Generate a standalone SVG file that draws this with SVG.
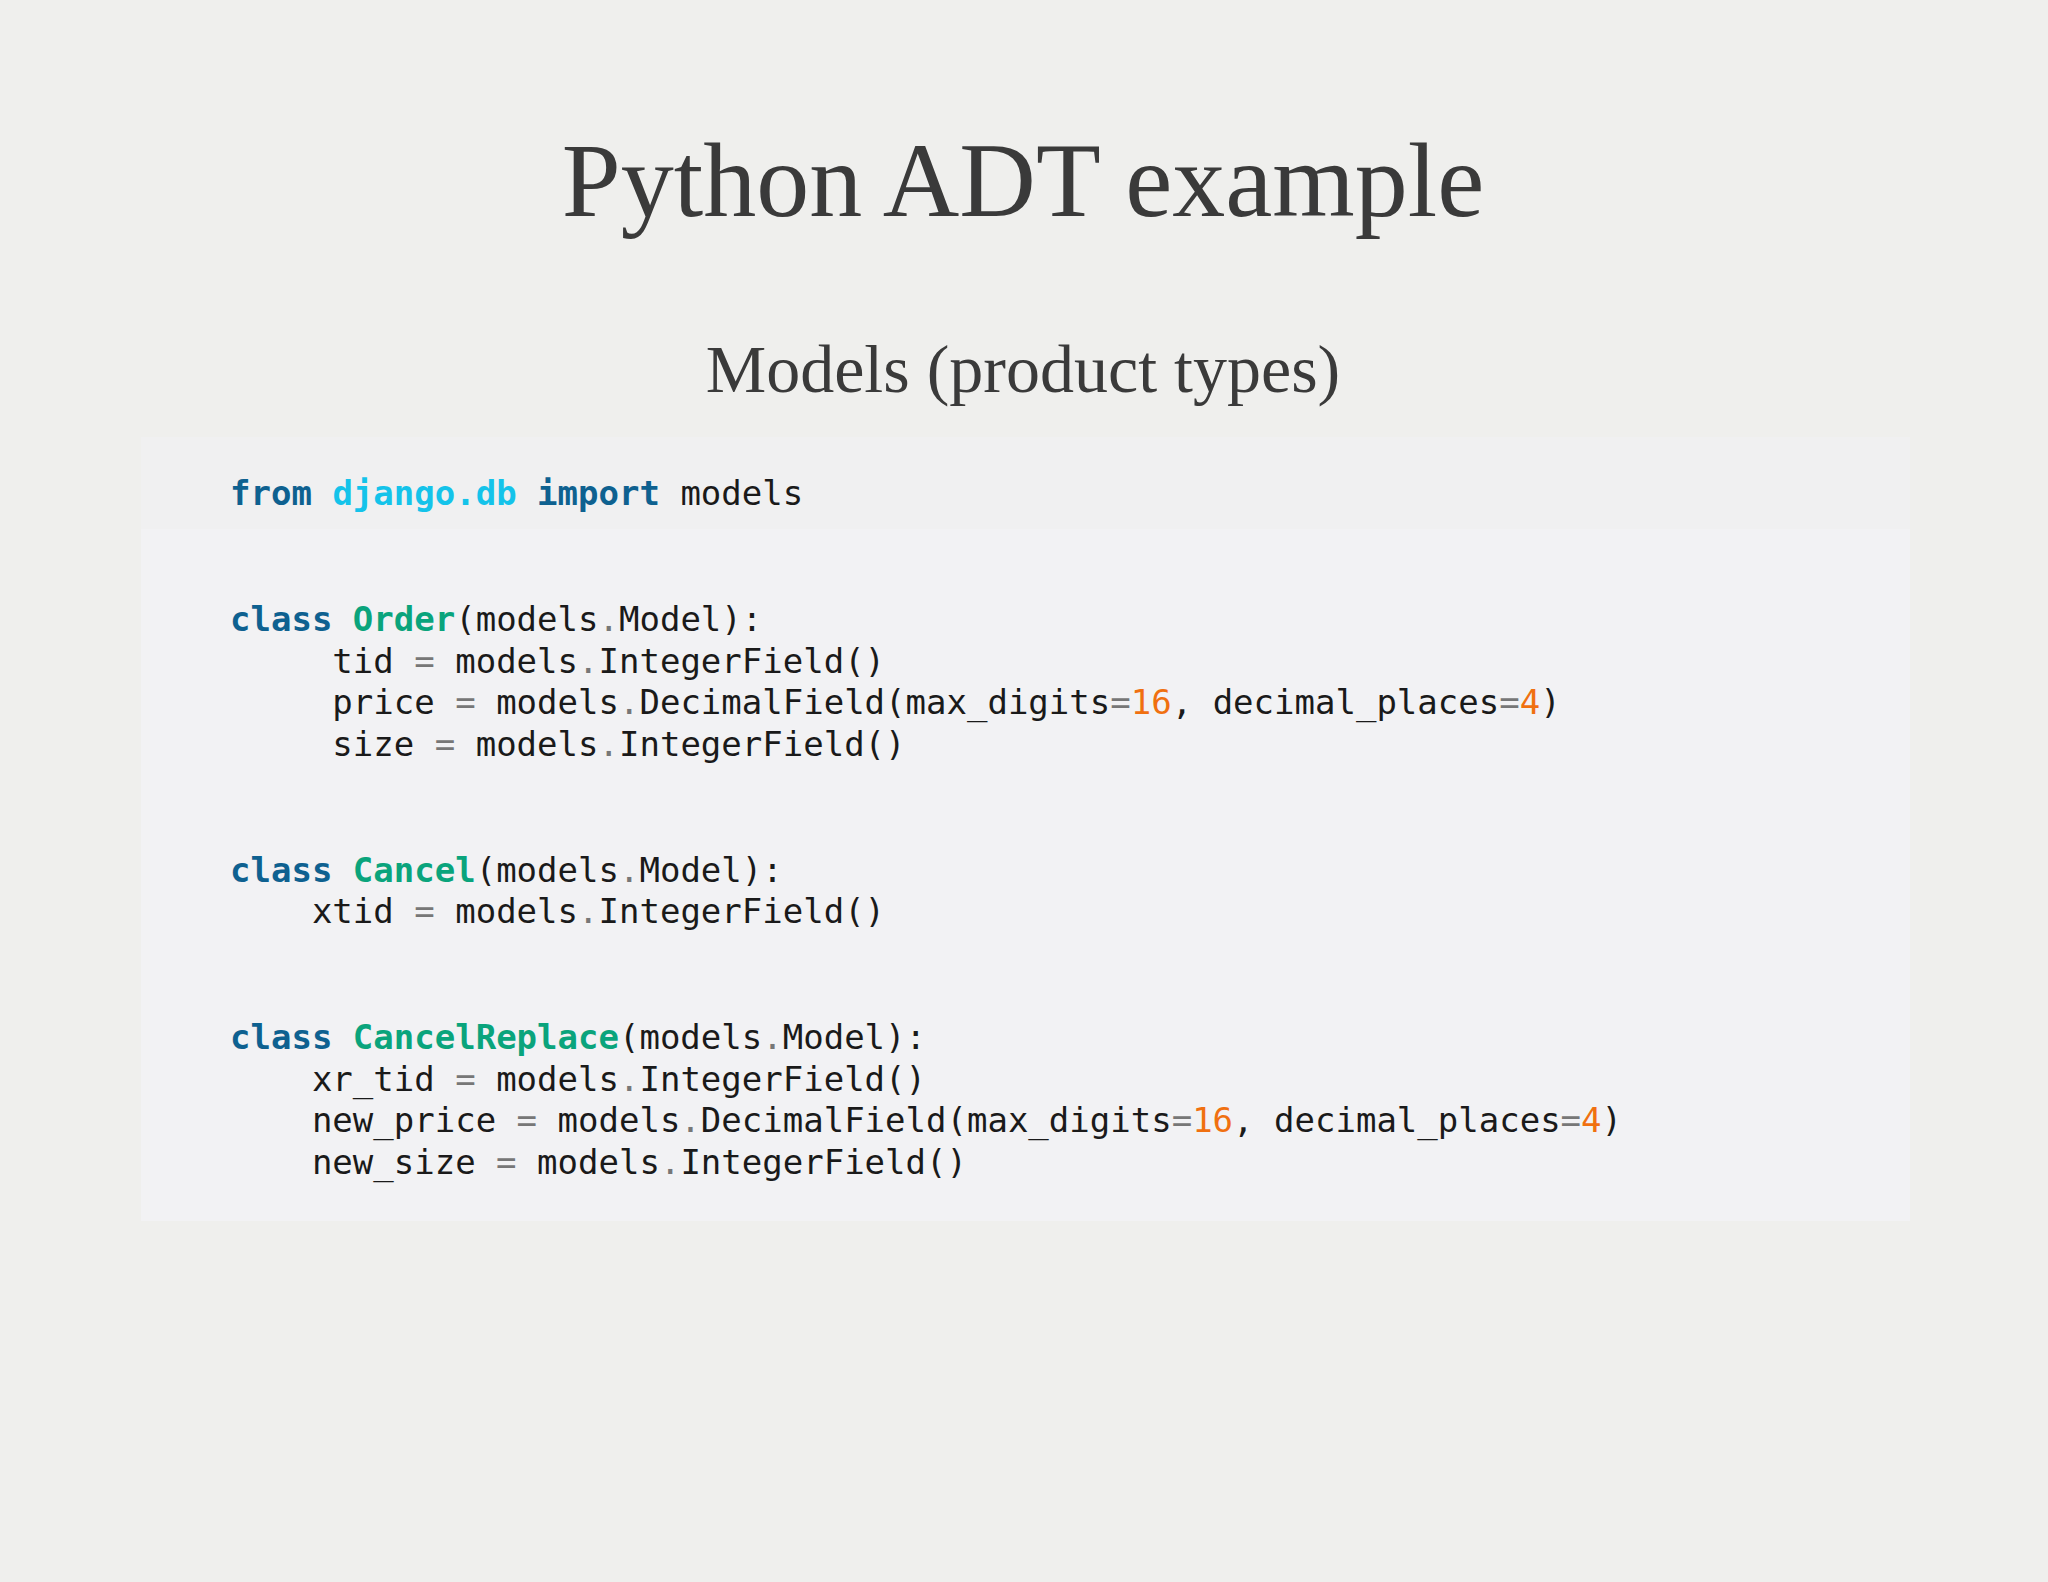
<svg xmlns="http://www.w3.org/2000/svg" width="2048" height="1582" viewBox="0 0 2048 1582">
<style>
.c{font-family:"DejaVu Sans Mono",monospace;font-size:34px;fill:#1a1a1a;white-space:pre}
.k{fill:#0e6190;font-weight:bold}
.m{fill:#14c3ea;font-weight:bold}
.n{fill:#0aa47c;font-weight:bold}
.o{fill:#777}
.d{fill:#f07010}
</style>
<rect width="2048" height="1582" fill="#efefed"/>
<g id="title"><text x="1023" y="216" text-anchor="middle" font-family="Liberation Serif, serif" font-size="106" fill="#3a3a3a">Python ADT example</text></g>
<g id="subtitle"><text x="1023" y="392" text-anchor="middle" font-family="Liberation Serif, serif" font-size="68" fill="#3a3a3a">Models (product types)</text></g>
<g id="code">
<rect x="141" y="437" width="1769" height="784" fill="#f2f2f4"/>
<rect x="141" y="437" width="1769" height="92" fill="#f0f0f1"/>
<text class="c" xml:space="preserve">
<tspan x="230" y="505"><tspan class="k">from</tspan> <tspan class="m">django.db</tspan> <tspan class="k">import</tspan> models</tspan>
<tspan x="230" y="631"><tspan class="k">class</tspan> <tspan class="n">Order</tspan>(models<tspan class="o">.</tspan>Model):</tspan>
<tspan x="230" y="673">     tid <tspan class="o">=</tspan> models<tspan class="o">.</tspan>IntegerField()</tspan>
<tspan x="230" y="714">     price <tspan class="o">=</tspan> models<tspan class="o">.</tspan>DecimalField(max_digits<tspan class="o">=</tspan><tspan class="d">16</tspan>, decimal_places<tspan class="o">=</tspan><tspan class="d">4</tspan>)</tspan>
<tspan x="230" y="756">     size <tspan class="o">=</tspan> models<tspan class="o">.</tspan>IntegerField()</tspan>
<tspan x="230" y="882"><tspan class="k">class</tspan> <tspan class="n">Cancel</tspan>(models<tspan class="o">.</tspan>Model):</tspan>
<tspan x="230" y="923">    xtid <tspan class="o">=</tspan> models<tspan class="o">.</tspan>IntegerField()</tspan>
<tspan x="230" y="1049"><tspan class="k">class</tspan> <tspan class="n">CancelReplace</tspan>(models<tspan class="o">.</tspan>Model):</tspan>
<tspan x="230" y="1091">    xr_tid <tspan class="o">=</tspan> models<tspan class="o">.</tspan>IntegerField()</tspan>
<tspan x="230" y="1132">    new_price <tspan class="o">=</tspan> models<tspan class="o">.</tspan>DecimalField(max_digits<tspan class="o">=</tspan><tspan class="d">16</tspan>, decimal_places<tspan class="o">=</tspan><tspan class="d">4</tspan>)</tspan>
<tspan x="230" y="1174">    new_size <tspan class="o">=</tspan> models<tspan class="o">.</tspan>IntegerField()</tspan>
</text>
</g>
</svg>
